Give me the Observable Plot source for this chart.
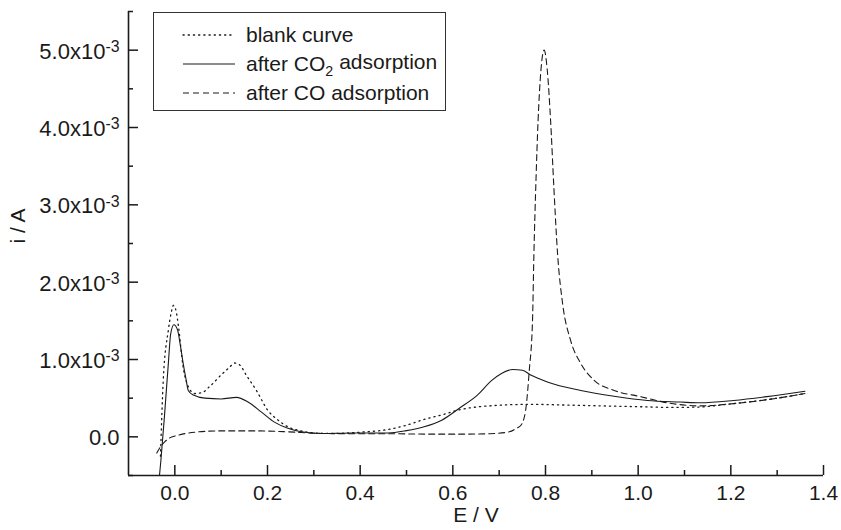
<!DOCTYPE html>
<html>
<head>
<meta charset="utf-8">
<script src="https://cdn.jsdelivr.net/npm/d3@7"></script>
<script src="https://cdn.jsdelivr.net/npm/@observablehq/plot@0.6"></script>
<style>
  html, body { margin: 0; padding: 0; background: #fff; }
  #chart { width: 841px; height: 530px; }
</style>
</head>
<body>
<div id="chart"></div>
<script>
// ---------- data (E in V, current in mA; converted to A below) ----------
const seriesNames = ["blank curve", "after CO2 adsorption", "after CO adsorption"];

const blankE = [-0.031, -0.025, -0.014, -0.008, -0.003, 0.003, 0.008, 0.018, 0.029, 0.043, 0.058, 0.075, 0.100, 0.118, 0.129, 0.140, 0.154, 0.176, 0.201, 0.223, 0.244, 0.270, 0.300, 0.345, 0.400, 0.460, 0.500, 0.538, 0.580, 0.614, 0.650, 0.691, 0.768, 0.850, 0.922, 1.000, 1.076, 1.130, 1.191, 1.250, 1.300, 1.360];
const blankI = [-0.25, 0.73, 1.38, 1.60, 1.70, 1.62, 1.42, 0.90, 0.65, 0.56, 0.57, 0.65, 0.80, 0.90, 0.955, 0.93, 0.80, 0.60, 0.34, 0.215, 0.13, 0.08, 0.05, 0.044, 0.06, 0.095, 0.15, 0.225, 0.29, 0.35, 0.385, 0.405, 0.42, 0.41, 0.40, 0.39, 0.38, 0.385, 0.42, 0.46, 0.50, 0.56];

const co2E = [-0.033, -0.030, -0.022, -0.014, -0.009, -0.002, 0.006, 0.012, 0.018, 0.024, 0.029, 0.040, 0.065, 0.100, 0.133, 0.158, 0.187, 0.215, 0.244, 0.273, 0.316, 0.384, 0.460, 0.500, 0.538, 0.576, 0.614, 0.653, 0.684, 0.705, 0.729, 0.750, 0.768, 0.804, 0.876, 0.948, 1.020, 1.091, 1.134, 1.206, 1.278, 1.360];
const co2I = [-0.49, -0.30, 0.30, 0.95, 1.33, 1.45, 1.38, 1.18, 0.95, 0.75, 0.60, 0.54, 0.50, 0.49, 0.51, 0.45, 0.32, 0.19, 0.11, 0.065, 0.044, 0.05, 0.05, 0.08, 0.13, 0.215, 0.37, 0.54, 0.73, 0.82, 0.87, 0.86, 0.80, 0.71, 0.60, 0.525, 0.47, 0.45, 0.44, 0.47, 0.52, 0.59];

const coE = [-0.039, -0.030, -0.022, -0.010, 0.007, 0.025, 0.043, 0.100, 0.172, 0.244, 0.316, 0.400, 0.460, 0.550, 0.614, 0.680, 0.722, 0.737, 0.747, 0.757, 0.765, 0.772, 0.775, 0.779, 0.784, 0.790, 0.797, 0.804, 0.811, 0.818, 0.826, 0.837, 0.854, 0.876, 0.905, 0.948, 1.005, 1.063, 1.134, 1.206, 1.278, 1.360];
const coI = [-0.21, -0.12, -0.065, -0.01, 0.02, 0.045, 0.06, 0.077, 0.077, 0.065, 0.044, 0.04, 0.04, 0.035, 0.035, 0.04, 0.065, 0.11, 0.15, 0.34, 0.86, 1.51, 2.37, 3.23, 4.09, 4.73, 5.00, 4.73, 4.09, 3.23, 2.37, 1.72, 1.25, 0.95, 0.73, 0.60, 0.52, 0.44, 0.40, 0.43, 0.48, 0.56];

// ---------- ticks ----------
const xMajor = [0, 0.2, 0.4, 0.6, 0.8, 1.0, 1.2, 1.4];
const xMinor = [0.1, 0.3, 0.5, 0.7, 0.9, 1.1, 1.3];
const xTickLabels = ["0.0", "0.2", "0.4", "0.6", "0.8", "1.0", "1.2", "1.4"];
const yMajor = [0, 1e-3, 2e-3, 3e-3, 4e-3, 5e-3];
const yMinor = [-0.5e-3, 0.5e-3, 1.5e-3, 2.5e-3, 3.5e-3, 4.5e-3, 5.5e-3];
const yTickLabels = ["0.0", "1.0x10-3", "2.0x10-3", "3.0x10-3", "4.0x10-3", "5.0x10-3"];
const xDomain = [-0.1, 1.4];
const yDomain = [-0.5e-3, 5.5e-3];

// ---------- build ----------
const toRows = (E, I) => E.map((e, k) => ({E: e, i: I[k] * 1e-3}));
const blank = toRows(blankE, blankI);
const co2 = toRows(co2E, co2I);
const co = toRows(coE, coI);

const styles = [
  {dash: "1.2,4", width: 1.3},
  {dash: null, width: 1.1},
  {dash: "6,4", width: 1.1}
];
const ink = "#1a1a1a";
const W = 841, H = 530, mL = 128, mR = 18, mT = 11, mB = 55;
const frameW = W - mL - mR, frameH = H - mT - mB;
const font = "'Liberation Sans', Arial, Helvetica, sans-serif";
const fs = 21;
const fsY = 22;

const chart = Plot.plot({
  width: W, height: H,
  marginLeft: mL, marginRight: mR, marginTop: mT, marginBottom: mB,
  style: {fontFamily: font, fontSize: fs + "px", background: "#fff", color: ink, overflow: "visible"},
  x: {domain: xDomain, axis: null},
  y: {domain: yDomain, axis: null},
  marks: [
    Plot.line(blank, {x: "E", y: "i", stroke: ink, strokeWidth: styles[0].width, strokeDasharray: styles[0].dash, strokeLinecap: "round", curve: "monotone-x", clip: true}),
    Plot.line(co2, {x: "E", y: "i", stroke: ink, strokeWidth: styles[1].width, curve: "monotone-x", clip: true}),
    Plot.line(co, {x: "E", y: "i", stroke: ink, strokeWidth: styles[2].width, strokeDasharray: styles[2].dash, curve: "monotone-x", clip: true}),
    // axis lines
    Plot.ruleX([xDomain[0]], {stroke: ink, strokeWidth: 1.6}),
    Plot.ruleY([yDomain[0]], {stroke: ink, strokeWidth: 1.6}),
    // inward ticks
    Plot.tickX(xMajor, {x: d => d, stroke: ink, strokeWidth: 1.5, insetTop: frameH - 10}),
    Plot.tickX(xMinor, {x: d => d, stroke: ink, strokeWidth: 1.5, insetTop: frameH - 5}),
    Plot.tickY(yMajor, {y: d => d, stroke: ink, strokeWidth: 1.5, insetRight: frameW - 10}),
    Plot.tickY(yMinor, {y: d => d, stroke: ink, strokeWidth: 1.5, insetRight: frameW - 5}),
    // tick labels
    Plot.axisX(xMajor, {tickSize: 0, tickPadding: 10, fontSize: fs, label: null, tickFormat: d => xTickLabels[xMajor.indexOf(d)]}),
    Plot.axisY(yMajor, {tickSize: 0, tickPadding: 9, fontSize: fsY, label: null, dy: 1.5, tickFormat: d => yTickLabels[yMajor.indexOf(d)]}),
    // axis titles
    Plot.text(["E / V"], {text: d => d, frameAnchor: "bottom", dy: 46, fontSize: fs, fill: ink}),
    Plot.text(["i / A"], {text: d => d, frameAnchor: "left", dx: -110, rotate: -90, fontSize: fs, fill: ink})
  ]
});
document.getElementById("chart").appendChild(chart);

// superscript exponents in y tick labels
const svg = d3.select(chart);
svg.selectAll("g[aria-label='y-axis tick label'] text").each(function () {
  const t = this.textContent;
  const m = t.match(/^(.*x10)(-\d+)$/);
  if (m) {
    const el = d3.select(this);
    el.text(m[1]);
    el.append("tspan").attr("dy", "-0.42em").attr("font-size", "0.72em").text(m[2]);
  }
});

// legend (inside plot area, boxed)
const lg = svg.append("g").attr("font-family", font).attr("font-size", fs).attr("fill", ink)
  .attr("text-anchor", "start");
lg.append("rect").attr("x", 153.5).attr("y", 12.5).attr("width", 292).attr("height", 98)
  .attr("fill", "#fff").attr("stroke", "#333").attr("stroke-width", 1);
const rowY = [35, 64, 93];
seriesNames.forEach((name, k) => {
  lg.append("line").attr("x1", 183).attr("x2", 235).attr("y1", rowY[k]).attr("y2", rowY[k])
    .attr("stroke", ink).attr("stroke-width", styles[k].width)
    .attr("stroke-dasharray", styles[k].dash).attr("stroke-linecap", k === 0 ? "round" : null);
  const tx = lg.append("text").attr("x", 246).attr("y", rowY[k]).attr("dy", "0.35em")
    .attr("text-anchor", "start");
  const m = name.match(/^(.*CO)(\d)( .*)$/);
  if (m) {
    tx.append("tspan").text(m[1]);
    tx.append("tspan").attr("dy", "0.3em").attr("font-size", "0.68em").text(m[2]);
    tx.append("tspan").attr("dy", "-0.3em").text(m[3]);
  } else {
    tx.text(name);
  }
});
</script>
</body>
</html>
